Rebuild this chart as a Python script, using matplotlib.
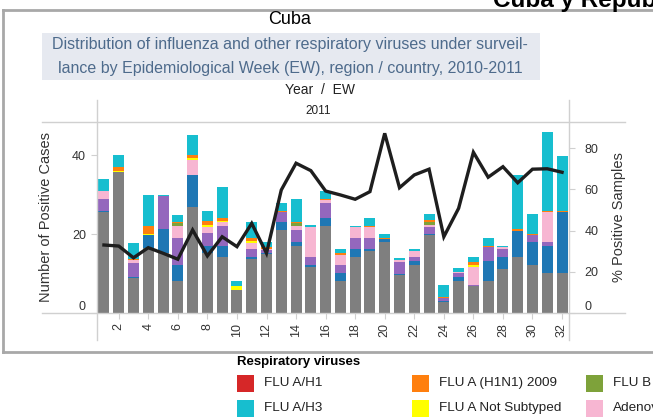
import numpy as np
import matplotlib as mpl

mpl.use('Agg')
import matplotlib.pyplot as plt
from matplotlib.patches import Rectangle
from matplotlib.lines import Line2D

plt.rcParams['font.family'] = ['Liberation Sans', 'DejaVu Sans']

W, H = 653, 418

weeks = list(range(1, 33))

# stacked segments, bottom -> top
other = [25.6, 35.7, 8.9, 16.5, 15.1, 8.0, 26.9, 15.1, 14.1, 5.8, 13.7, 14.9, 21.1, 17.0, 11.6, 22.1,
         8.0, 14.1, 15.8, 18.0, 9.7, 12.1, 19.7, 2.8, 8.0, 6.8, 8.0, 11.1, 14.1, 12.1, 10.1, 10.1]
rsv = [0.3, 0, 0.3, 3.2, 6.1, 4.1, 8.0, 1.9, 2.9, 0, 0.6, 0.3, 2.0, 1.0, 0.5, 2.0,
       2.1, 2.0, 0.3, 0.7, 0.3, 1.0, 0.4, 0.3, 1.2, 0, 5.1, 3.0, 6.8, 6.0, 6.9, 15.5]
parainfluenza = [3.1, 0, 3.5, 0, 8.4, 7.0, 0, 3.2, 5.1, 0, 1.8, 0.8, 2.5, 3.0, 2.0, 3.8,
                 2.0, 3.0, 3.0, 0, 2.8, 1.0, 1.6, 0.7, 0.9, 0.4, 3.6, 2.0, 0, 1.7, 1.0, 0]
adeno = [1.8, 0, 0.8, 0, 0, 3.0, 3.9, 1.6, 0.9, 0, 1.6, 0.3, 0, 1.0, 7.7, 0.8,
         2.7, 2.6, 2.7, 0, 0.7, 1.6, 0.7, 0, 0.2, 4.5, 0, 0.6, 0, 0, 7.6, 0]
flu_b = [0, 0, 0, 0, 0, 0.6, 0, 0, 0, 0, 0, 0, 0, 0.7, 0, 0,
         0, 0, 0, 0, 0, 0, 0.7, 0, 0, 0, 0, 0, 0, 0, 0, 0]
flu_a_ns = [0, 0.3, 0, 0.4, 0, 0, 0.4, 0.4, 0.3, 1.0, 0.5, 0, 0, 0, 0, 0,
            0, 0, 0, 0, 0, 0, 0, 0, 0, 0.4, 0, 0, 0, 0, 0, 0]
flu_h1n1 = [0.2, 1.0, 0.3, 2.0, 0, 0.3, 0.9, 1.0, 0.8, 0, 0.9, 0.5, 0.3, 0.3, 0, 0.3,
            0.3, 0, 0.3, 0.3, 0, 0, 0.4, 0.3, 0.2, 0.9, 0.4, 0, 0.3, 0.3, 0.3, 0.3]
flu_h1 = [0] * 32
flu_h3 = [3.0, 3.0, 4.0, 7.7, 0.3, 1.9, 5.0, 2.6, 7.8, 1.2, 4.0, 1.3, 1.9, 5.8, 0.4, 1.9,
          1.0, 0.4, 2.0, 1.1, 0.5, 0.4, 1.6, 3.0, 1.0, 1.1, 2.0, 0.4, 13.7, 5.0, 20.0, 14.0]

pct_positive = [33.0, 32.5, 26.8, 31.7, 29.0, 26.1, 40.3, 27.7, 37.0, 32.2, 43.5, 29.0, 59.7, 72.7, 69.1, 59.2,
                57.3, 55.2, 58.9, 87.2, 60.8, 67.0, 69.8, 37.0, 50.8, 78.0, 65.9, 71.0, 63.2, 69.8, 70.0, 68.3]

stack = [other, rsv, parainfluenza, adeno, flu_b, flu_a_ns, flu_h1n1, flu_h1, flu_h3]
stack_colors = ['#7f7f7f', '#1f77b4', '#9467bd', '#f7b6d2', '#7ea23a', '#ffff00', '#ff7f0e', '#d62728', '#17becf']

legend_labels = ['FLU A/H1', 'FLU A (H1N1) 2009', 'FLU B', 'FLU A/H3', 'FLU A Not Subtyped', 'Adenovirus']
legend_colors = ['#d62728', '#ff7f0e', '#7ea23a', '#17becf', '#ffff00', '#f7b6d2']


def fx(x):
    return x / W


def fy(y):
    return 1 - y / H


fig = plt.figure(figsize=(W / 100, H / 100), dpi=100)

# plot pane
px0, px1, py0, py1 = 97, 569, 122, 313
ax = fig.add_axes([fx(px0), fy(py1), (px1 - px0) / W, (py1 - py0) / H])
ax2 = ax.twinx()

bottom = np.zeros(len(weeks))
for vals, col in zip(stack, stack_colors):
    ax.bar(weeks, vals, width=0.74, bottom=bottom, color=col, linewidth=0, zorder=2)
    bottom += np.array(vals)

ax2.plot(weeks, pct_positive, color='#1e1e1e', lw=2.4, solid_joinstyle='miter', zorder=3)

ax.set_xlim(0.53, 32.47)
ax.set_ylim(0, 48.4)
ax2.set_ylim(0, 92.7)
ax.set_yticks([0, 20, 40])
ax2.set_yticks([0, 20, 40, 60, 80])
ax.set_xticks(range(2, 33, 2))
ax.set_xticklabels([str(w) for w in range(2, 33, 2)], rotation=90)

grid_col = '#d0d0d0'
for a in (ax, ax2):
    for s in a.spines.values():
        s.set_visible(False)
    a.tick_params(colors='#333333', labelsize=9, length=4, width=0.8)
    a.tick_params(axis='both', color=grid_col)
ax.tick_params(axis='y', pad=4)
ax2.tick_params(axis='y', pad=7)
ax.tick_params(axis='x', pad=3)
ax.get_yticklabels()[0].set_va('bottom')
ax2.get_yticklabels()[0].set_va('bottom')

ax.set_ylabel('Number of Positive Cases', fontsize=10.5, color='#333333')
ax2.set_ylabel('% Positive Samples', fontsize=10.5, color='#333333')
ax.yaxis.set_label_coords((53 - px0) / (px1 - px0), 0.5)
ax2.yaxis.set_label_coords(1 + (612 - px1) / (px1 - px0), 0.5)


# pane borders (Tableau style)
def hline(y, x0, x1, col=grid_col, lw=1.0):
    fig.add_artist(Line2D([fx(x0), fx(x1)], [fy(y), fy(y)], color=col, lw=lw))


def vline(x, y0, y1, col=grid_col, lw=1.0):
    fig.add_artist(Line2D([fx(x), fx(x)], [fy(y0), fy(y1)], color=col, lw=lw))


hline(py0, 42, 625)
hline(py1, 42, 625)
vline(px0, 100, 340)
vline(px1, 100, 340)

# outer frame
frame_col = '#a8a8a8'
vline(3, 10, 352, col=frame_col, lw=2)
hline(10, 3, W, col=frame_col, lw=2)
hline(352, 3, W, col=frame_col, lw=2)

# titles
cx_title = 290
fig.text(fx(493), fy(7), 'Cuba y República Dominicana', fontsize=17.5, fontweight='bold',
         ha='left', va='baseline', color='black')
fig.text(fx(cx_title), fy(19), 'Cuba', fontsize=13, ha='center', va='center', color='black')
fig.add_artist(Rectangle((fx(42), fy(80)), (540 - 42) / W, (80 - 33) / H,
                         facecolor='#e6e9f0', edgecolor='none'))
fig.text(fx(cx_title), fy(45), 'Distribution of influenza and other respiratory viruses under surveil-',
         fontsize=11.5, ha='center', va='center', color='#4e6b8c')
fig.text(fx(cx_title), fy(68), 'lance by Epidemiological Week (EW), region / country, 2010-2011',
         fontsize=11.5, ha='center', va='center', color='#4e6b8c')
fig.text(fx(320), fy(90), 'Year  /  EW', fontsize=10, ha='center', va='center', color='#222222')
fig.text(fx(318), fy(111), '2011', fontsize=8.5, ha='center', va='center', color='#222222')

# legend
fig.text(fx(237), fy(362), 'Respiratory viruses', fontsize=9.5, fontweight='bold', ha='left', va='center')
col_x = [237, 412, 586]
row_y = [383, 408]
for i, (lab, col) in enumerate(zip(legend_labels, legend_colors)):
    cx = col_x[i % 3]
    cy = row_y[i // 3]
    fig.add_artist(Rectangle((fx(cx), fy(cy + 8.5)), 17 / W, 17 / H, facecolor=col, edgecolor='none'))
    fig.text(fx(cx + 27), fy(cy), lab, fontsize=9.7, ha='left', va='center', color='#222222')

fig.savefig('out.png', dpi=100)
